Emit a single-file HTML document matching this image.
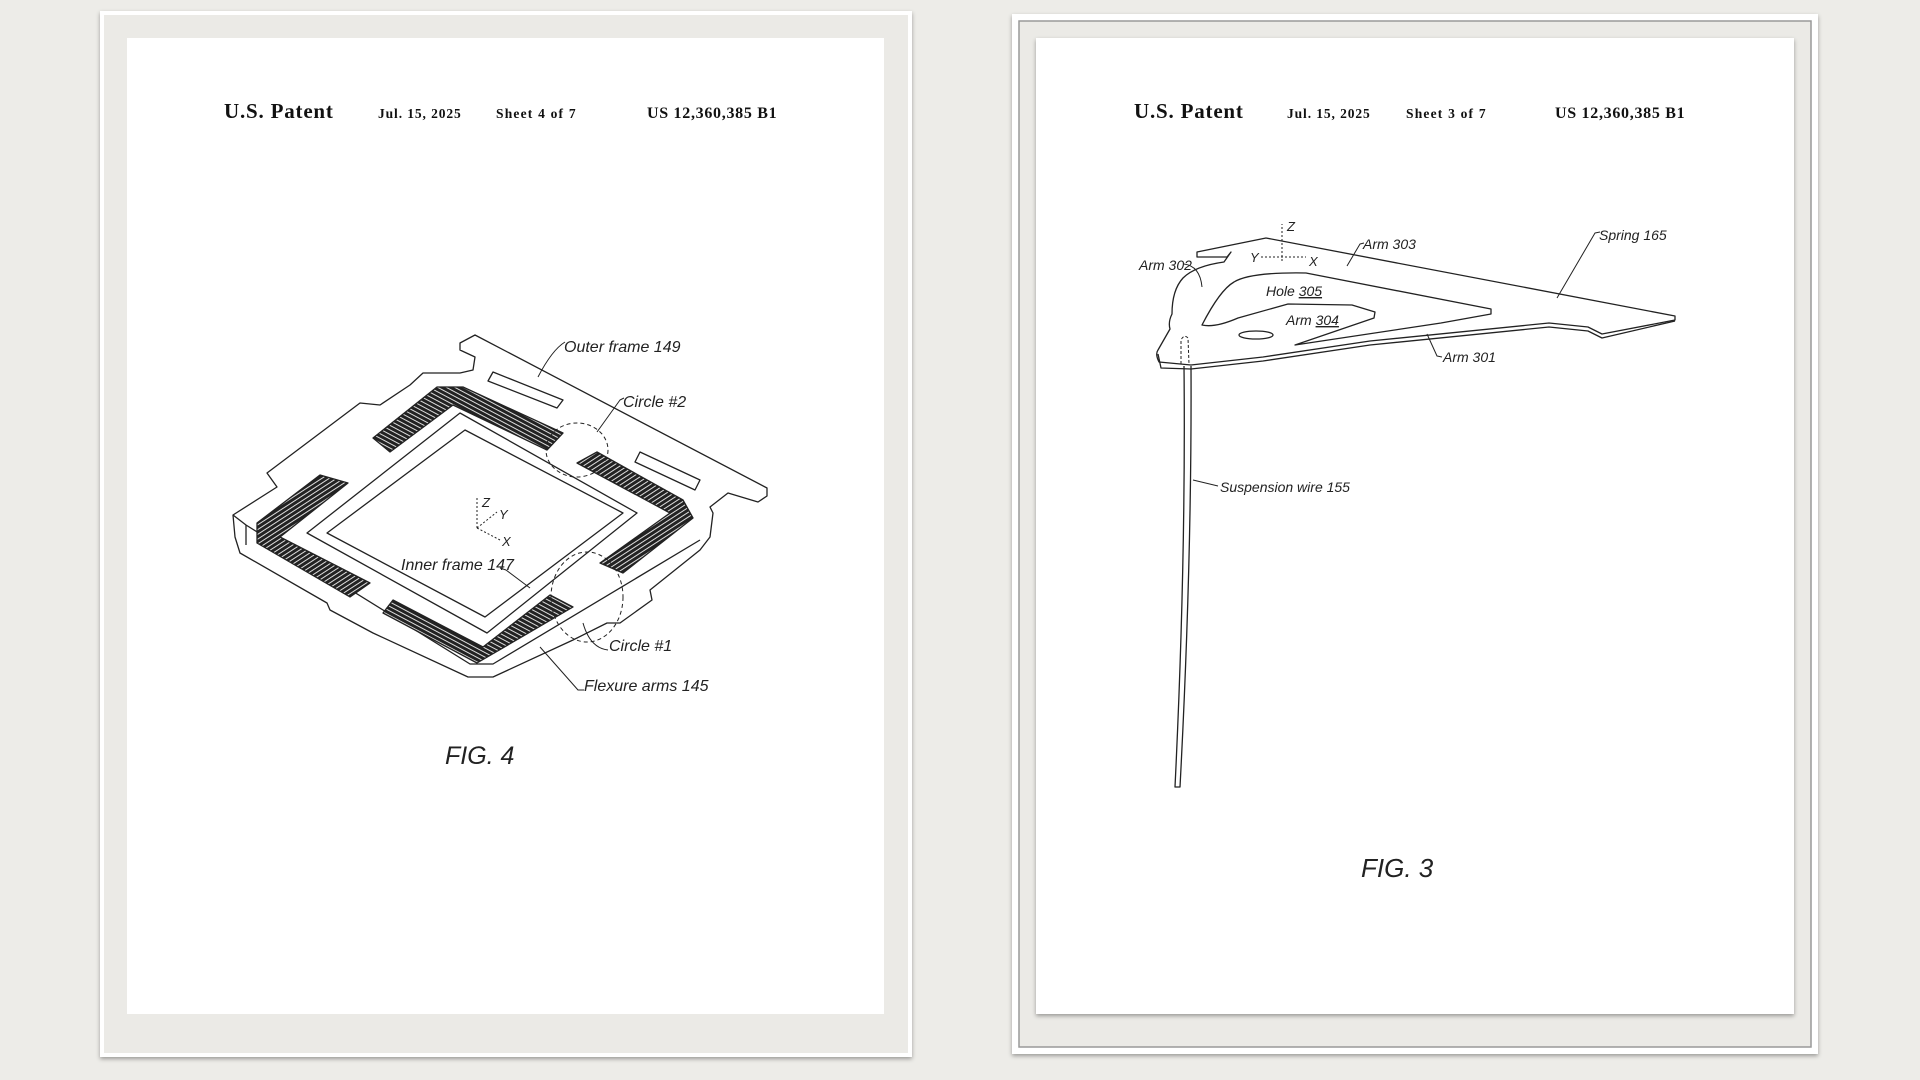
<!DOCTYPE html>
<html><head><meta charset="utf-8"><style>
html,body{margin:0;padding:0;width:1920px;height:1080px;overflow:hidden;background:#edece8;}
svg{position:absolute;left:0;top:0}
.h{font-family:"Liberation Serif",serif;font-weight:bold;fill:#111}
.l{font-family:"Liberation Sans",sans-serif;font-style:italic;fill:#222}
</style></head><body>
<svg width="1920" height="1080" viewBox="0 0 1920 1080">
<defs>
<pattern id="hp" width="4" height="4" patternUnits="userSpaceOnUse" patternTransform="rotate(28)">
<rect width="4" height="4" fill="#222"/><rect width="4" height="1" fill="#ddd"/></pattern>
<pattern id="hp2" width="4" height="4" patternUnits="userSpaceOnUse" patternTransform="rotate(-33)">
<rect width="4" height="4" fill="#222"/><rect width="4" height="1" fill="#ddd"/></pattern>
<filter id="sh"><feDropShadow dx="0" dy="2" stdDeviation="2" flood-opacity="0.35"/></filter>
</defs>
<rect width="1920" height="1080" fill="#edece8"/>
<rect x="102" y="13" width="808" height="1042" fill="#ebeae6" stroke="#fff" stroke-width="4" filter="url(#sh)"/>
<rect x="127" y="38" width="757" height="976" fill="#fff"/>
<rect x="1012" y="14" width="806" height="1040" fill="#fff" filter="url(#sh)"/>
<rect x="1019" y="21" width="792" height="1026" fill="#ebeae6" stroke="#999" stroke-width="1.5"/>
<rect x="1036" y="38" width="758" height="976" fill="#fff" filter="url(#sh)"/>

<text class="h" x="224" y="118" font-size="21" letter-spacing="0.8">U.S. Patent</text>
<text class="h" x="378" y="118" font-size="13.5" letter-spacing="0.9">Jul. 15, 2025</text>
<text class="h" x="496" y="118" font-size="13.5" letter-spacing="1.2">Sheet 4 of 7</text>
<text class="h" x="647" y="118" font-size="16" letter-spacing="0.7">US 12,360,385 B1</text>
<text class="h" x="1134" y="118" font-size="21" letter-spacing="0.8">U.S. Patent</text>
<text class="h" x="1287" y="118" font-size="13.5" letter-spacing="0.9">Jul. 15, 2025</text>
<text class="h" x="1406" y="118" font-size="13.5" letter-spacing="1.2">Sheet 3 of 7</text>
<text class="h" x="1555" y="118" font-size="16" letter-spacing="0.7">US 12,360,385 B1</text>

<!-- FIG 4 -->
<g fill="none" stroke="#222" stroke-width="1.3" stroke-linejoin="round">
<polygon fill="#fff" points="460,343 475,335 767,488 767,496 758,502 728,493 710,507 713,513 710,537 700,550 650,590 652,600 620,623 607,623 573,640 493,677 468,677 373,633 330,610 327,603 240,553 235,537 233,515 277,487 267,473 360,403 380,405 410,385 423,373 460,373 473,370 475,357 460,350"/>
<polyline points="233,515 246,525 470,664 493,664 700,540"/>
<polyline points="246,525 246,545"/>
<polygon points="307,533 460,413 637,513 487,633"/>
<polygon points="327,533 465,430 623,513 485,617"/>
<polygon points="493,372 563,400 557,408 488,381"/>
<polygon points="640,452 700,480 695,490 635,462"/>
<polygon fill="url(#hp)" points="437,387 373,438 390,452 453,405 547,450 563,433 463,387"/>
<polygon fill="url(#hp2)" points="577,463 597,452 683,500 693,518 623,573 600,563 670,513"/>
<polygon fill="url(#hp2)" points="320,475 348,483 280,537 370,583 350,597 257,543 257,523"/>
<polygon fill="url(#hp)" points="393,600 383,613 477,663 573,607 550,595 483,647"/>
<ellipse cx="577" cy="450" rx="31" ry="27" stroke-dasharray="4 3" stroke-width="1"/>
<ellipse cx="587" cy="597" rx="36" ry="45" stroke-dasharray="4 3" stroke-width="1"/>
<path d="M538 377 Q552 350 565 342M597 432 L620 400 L624 398M500 568 L506 570 L530 588M583 623 Q590 648 608 650M540 647 L578 690 L584 690" stroke-width="1"/>
<path d="M477 528 V498 M477 528 L497 512 M477 528 L500 540" stroke-width="1" stroke-dasharray="2 2"/>
</g>
<text class="l" x="564" y="352" font-size="16">Outer frame 149</text>
<text class="l" x="623" y="407" font-size="16">Circle #2</text>
<text class="l" x="401" y="570" font-size="16">Inner frame 147</text>
<text class="l" x="609" y="651" font-size="16">Circle #1</text>
<text class="l" x="584" y="691" font-size="16">Flexure arms 145</text>
<text class="l" x="482" y="507" font-size="13">Z</text>
<text class="l" x="499" y="519" font-size="13">Y</text>
<text class="l" x="502" y="546" font-size="13">X</text>
<text class="l" x="445" y="764" font-size="25">FIG. 4</text>

<!-- FIG 3 -->
<g fill="none" stroke="#222" stroke-width="1.3" stroke-linejoin="round">
<path fill="#fff" d="M1197 252 L1266 238 L1675 316 L1675 320 L1602 334 L1588 327 L1549 323 L1370 341 L1263 357 L1191 365 L1159 362 Q1155 354 1158 350 L1170 329 Q1168 322 1172 314 Q1172 290 1183 278 Q1195 266 1224 262 L1231 252 L1227 257 L1197 257 Z"/>
<polyline points="1158,354 1161,368 1191,369 1263,361 1370,345 1549,327 1588,331 1602,338 1675,321"/>
<path d="M1202 325 Q1220 290 1234 282 Q1250 272 1306 273 L1491 309 L1491 314 L1441 323 L1295 345 L1374 318 L1375 312 L1352 305 L1288 304 L1238 318 Q1215 328 1202 325 Z"/>
<ellipse cx="1256" cy="335" rx="17" ry="4"/>
<path d="M1184 366 Q1186 560 1175 787 L1180 787 Q1192 560 1191 366"/>
<path d="M1181 364 L1181 340 Q1184 334 1188 338 L1189 364" stroke-dasharray="3 2" stroke-width="1"/>
<path d="M1282 261 V224 M1261 257 H1306" stroke-width="1" stroke-dasharray="2 2"/>
<path d="M1347 266 L1360 244 L1364 243 M1184 264 Q1200 266 1202 287 M1557 298 L1595 233 L1600 232 M1427 334 L1437 356 L1442 357 M1193 480 L1218 486" stroke-width="1"/>
</g>
<text class="l" x="1287" y="231" font-size="13">Z</text>
<text class="l" x="1250" y="262" font-size="13">Y</text>
<text class="l" x="1309" y="266" font-size="13">X</text>
<text class="l" x="1363" y="249" font-size="14">Arm 303</text>
<text class="l" x="1139" y="270" font-size="14">Arm 302</text>
<text class="l" x="1599" y="240" font-size="14">Spring 165</text>
<text class="l" x="1266" y="296" font-size="14">Hole <tspan text-decoration="underline">305</tspan></text>
<text class="l" x="1286" y="325" font-size="14">Arm <tspan text-decoration="underline">304</tspan></text>
<text class="l" x="1443" y="362" font-size="14">Arm 301</text>
<text class="l" x="1220" y="492" font-size="14">Suspension wire 155</text>
<text class="l" x="1361" y="877" font-size="26">FIG. 3</text>
</svg>
</body></html>
